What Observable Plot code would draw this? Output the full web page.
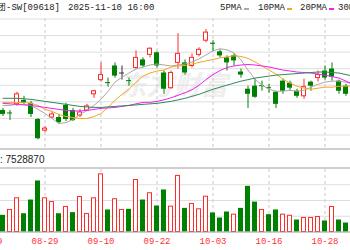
<!DOCTYPE html>
<html><head><meta charset="utf-8">
<script src="https://cdn.jsdelivr.net/npm/d3@7"></script>
<script src="https://cdn.jsdelivr.net/npm/@observablehq/plot@0.6"></script>
<style>
html,body{margin:0;padding:0;background:#fff;overflow:hidden;}
#wrap{width:350px;height:250px;overflow:hidden;position:relative;font-family:"Liberation Mono",monospace;}
.row{position:relative;height:17px;font-size:9px;line-height:17px;color:#222;white-space:nowrap;overflow:hidden;}
.row span{position:absolute;top:0;}
.row i{position:absolute;top:8px;width:5px;height:2px;}
#volrow{font-family:"Liberation Sans",Arial,sans-serif;font-size:10px;}
svg{display:block;}
</style></head><body><div id="wrap">
<div class="row" id="title"></div>
<div id="price"></div>
<div class="row" id="volrow"></div>
<div id="vol"></div>
</div>
<script>
// ---- data ----
const stockName = "京东集团-SW[09618]";
const stamp = "2025-11-10 16:00";
const volLabel = ": 7528870";
const watermark = "东方财富";
const preDates = ["08-19","08-20"];
const dates = ["08-21","08-22","08-25","08-26","08-27","08-28","08-29","09-01","09-02","09-03",
"09-04","09-05","09-08","09-09","09-10","09-11","09-12","09-15","09-16","09-17",
"09-18","09-19","09-22","09-23","09-24","09-25","09-26","09-29","09-30","10-02",
"10-03","10-06","10-08","10-09","10-10","10-13","10-14","10-15","10-16","10-17",
"10-20","10-21","10-22","10-23","10-24","10-27","10-28","10-30","10-31","11-03","11-04"];
const tickLabels = ["08-19","08-29","09-10","09-22","10-03","10-16","10-28"];
const open = [124.96,124.66,125.70,126.18,125.82,123.87,122.53,124.11,124.11,125.57,124.96,124.35,124.96,126.91,128.62,128.32,130.33,129.48,128.56,130.09,131.06,131.67,131.92,129.48,127.65,130.70,130.70,130.33,131.67,133.38,133.08,132.04,131.31,131.55,129.60,127.52,127.89,127.95,127.71,127.16,128.50,128.26,127.28,126.67,128.38,128.87,129.72,129.96,128.50,127.89,126.91];
const close = [124.48,124.54,126.91,125.82,124.48,121.55,122.77,124.48,123.50,123.87,123.74,124.72,125.45,127.28,129.23,128.20,129.11,129.48,128.44,131.31,130.33,132.41,130.33,127.52,129.48,131.79,129.48,131.31,132.28,134.36,132.95,131.55,130.70,130.94,129.23,126.91,126.55,127.83,127.59,125.70,127.28,127.65,126.67,127.77,127.89,129.23,128.87,128.99,127.28,126.91,125.21];
const high = [125.21,124.96,127.16,126.67,126.06,123.99,123.01,124.84,124.48,125.82,125.21,125.09,125.70,127.40,130.70,128.87,130.70,130.33,128.87,132.16,131.31,132.53,132.04,129.72,129.72,134.23,131.06,131.79,132.53,134.72,133.38,132.28,131.55,131.79,129.96,127.89,128.74,128.50,128.13,127.28,128.74,128.50,127.52,128.74,128.50,129.72,130.33,130.70,128.62,128.13,127.16];
const low = [124.23,123.74,125.45,125.70,124.11,121.43,122.28,123.99,123.26,123.62,123.62,124.11,124.84,126.43,128.38,127.77,128.87,128.62,127.89,129.96,130.09,131.31,130.09,126.91,127.52,129.96,129.23,130.09,131.43,133.14,132.04,131.31,129.72,130.33,128.87,125.21,126.43,127.28,127.04,125.21,126.91,127.28,126.43,126.30,127.28,128.38,128.62,128.50,126.91,126.67,124.84];
const ma5 = [125.57,125.57,125.70,125.70,125.57,125.09,124.60,123.99,123.38,123.50,123.87,124.48,124.96,125.57,126.30,127.28,128.38,128.99,129.48,129.96,130.21,130.45,130.57,130.45,130.33,130.45,130.57,130.82,131.18,131.67,132.16,132.41,132.28,131.92,131.06,129.84,128.74,128.01,127.52,127.28,127.28,127.40,127.28,127.40,127.77,128.13,128.38,128.50,128.50,128.38,128.13];
const ma10 = [125.94,125.94,125.94,125.94,125.82,125.57,125.09,124.84,124.48,124.23,124.11,123.99,123.99,124.23,124.60,125.33,126.18,126.91,127.52,128.38,129.11,129.48,129.72,129.84,130.21,130.33,130.39,130.57,130.76,130.94,131.12,131.31,131.43,131.55,131.49,131.24,130.82,130.33,129.84,129.35,128.74,128.26,127.89,127.65,127.52,127.65,127.77,127.77,127.89,127.89,127.89];
const ma20 = [125.82,125.76,125.70,125.63,125.57,125.45,125.33,125.21,125.09,124.96,124.90,124.90,124.96,125.09,125.21,125.27,125.33,125.45,125.57,125.76,125.94,125.94,126.06,126.24,126.49,126.79,127.10,127.46,128.01,128.68,129.29,129.78,130.15,130.33,130.45,130.51,130.45,130.33,130.21,130.02,129.84,129.72,129.60,129.54,129.48,129.35,129.23,129.05,128.87,128.50,128.13];
const ma30 = [126.43,126.43,126.43,126.37,126.30,126.18,126.06,125.94,125.82,125.70,125.57,125.45,125.39,125.33,125.33,125.39,125.45,125.51,125.57,125.63,125.70,125.76,125.82,125.94,126.06,126.24,126.43,126.67,126.91,127.22,127.52,127.77,128.01,128.26,128.50,128.68,128.87,128.99,129.11,129.23,129.29,129.35,129.41,129.48,129.54,129.60,129.60,129.54,129.48,129.29,129.11];
// volume in millions of shares; 1 = bar drawn as an up day
const volume = [10.6,14.0,21.4,11.6,20.3,32.4,21.4,19.0,11.6,15.9,12.3,22.2,11.4,21.4,36.6,14.0,20.8,14.0,14.4,33.0,20.3,24.6,16.5,26.7,16.1,35.6,15.0,17.8,14.4,22.4,12.1,8.9,12.7,11.0,15.0,29.0,19.0,14.0,11.0,14.0,11.0,10.3,7.6,8.9,8.9,9.5,7.0,15.9,7.6,5.7,11.4];
const volUp = [0,1,1,0,0,0,1,1,0,1,0,1,1,1,1,0,1,1,0,1,0,1,0,0,1,1,0,1,1,1,0,0,0,1,0,0,0,1,0,0,1,1,0,1,1,1,0,1,0,0,0];
const priceGrid = [122,124,126,128,130,132,134,136];
const volGrid = [10,20,30];
const maNames = ["5PMA","10PMA","20PMA","30PMA"];

// ---- styles ----
const RED = "#ff2a2a", GREEN = "#008000";
const maColors = ["#a8a8a8","#f5a623","#f020f0","#2f8a5c"];

// ---- header ----
const title = document.getElementById("title");
title.innerHTML = `<span style="right:290px">${stockName}</span><span style="left:68px">${stamp}</span>`;
const legendX = [220,258,300,338];
maNames.forEach((n,k)=>{
  const s = document.createElement("span"); s.textContent = n; s.style.left = legendX[k]+"px"; title.appendChild(s);
  const m = document.createElement("i"); m.style.left = (legendX[k] + n.length*5.4 + 2)+"px"; m.style.background = maColors[k]; title.appendChild(m);
});
document.getElementById("volrow").innerHTML = `<span style="left:0;top:1px">${volLabel}</span>`;

const allDates = preDates.concat(dates);
const xOpts = {type:"band", domain: allDates, range:[-15,356], padding:0, round:false, axis:null};

const candles = dates.map((d,i)=>({date:d, open:open[i], close:close[i], high:high[i], low:low[i]}));
candles.forEach(c => c.dir = c.close > c.open ? "up" : c.close < c.open ? "down" : "flat");
const colorOf = {up: RED, down: GREEN, flat: "#333"};

const maRows = [ma5, ma10, ma20, ma30].map(arr => arr.map((v,i)=>({date: dates[i], value: v})));

const pricePlot = Plot.plot({
  width: 350, height: 131,
  marginTop: 1, marginBottom: 0, marginLeft: 0, marginRight: 0,
  x: xOpts,
  y: {domain:[122,136], range:[117.5,1.5], axis:null},
  color: {type:"identity"},
  marks: [
    Plot.text([watermark], {frameAnchor:"middle", dx: -2, dy: 3, fontSize: 27, fontWeight: "bold", fontStyle: "italic", fill: "#eeeeee", fontFamily: "Noto Sans CJK SC"}),
    Plot.ruleY(priceGrid, {stroke:"#dedede"}),
    Plot.ruleX(tickLabels, {stroke:"#c8c8c8", strokeDasharray:"3,3"}),
    Plot.ruleX(candles, {x:"date", y1:"low", y2:"high", stroke: d => colorOf[d.dir]}),
    Plot.barY(candles.filter(d=>d.dir==="down"), {x:"date", y1:"open", y2:"close", fill: GREEN, insetLeft:1, insetRight:1}),
    Plot.barY(candles.filter(d=>d.dir==="up"), {x:"date", y1:"open", y2:"close", fill:"white", stroke: RED, insetLeft:1.5, insetRight:1.5}),
    Plot.tickY(candles.filter(d=>d.dir==="flat"), {x:"date", y:"close", stroke:"#333", insetLeft:1, insetRight:1}),
    ...maRows.map((rows,k) => Plot.line(rows, {x:"date", y:"value", stroke: maColors[k], strokeWidth: 1}))
  ]
});
pricePlot.style.borderBottom = "2px solid #cfcfcf";
document.getElementById("price").appendChild(pricePlot);

const vols = dates.map((d,i)=>({date:d, vol: volume[i], up: volUp[i] === 1}));
const volPlot = Plot.plot({
  width: 350, height: 81,
  marginTop: 0, marginBottom: 18.5, marginLeft: 0, marginRight: 0,
  x: xOpts,
  y: {domain:[0,40], range:[62.5,-0.5], axis:null},
  marks: [
    Plot.ruleY(volGrid, {stroke:"#dedede"}),
    Plot.ruleX(tickLabels, {stroke:"#c8c8c8", strokeDasharray:"3,3"}),
    Plot.barY(vols.filter(d=>!d.up), {x:"date", y:"vol", fill: GREEN, insetLeft:1, insetRight:1}),
    Plot.barY(vols.filter(d=>d.up), {x:"date", y:"vol", fill:"white", stroke: RED, insetLeft:1.5, insetRight:1.5}),
    Plot.ruleY([0], {stroke:"#999"}),
    Plot.axisX({ticks: tickLabels, tickSize: 0, tickPadding: 5.5, label: null, color: "#ff3333", fontSize: 9, fontFamily: "Liberation Mono", anchor: "bottom"})
  ]
});
volPlot.style.borderTop = "2px solid #cfcfcf";
document.getElementById("vol").appendChild(volPlot);
</script>
</body></html>
